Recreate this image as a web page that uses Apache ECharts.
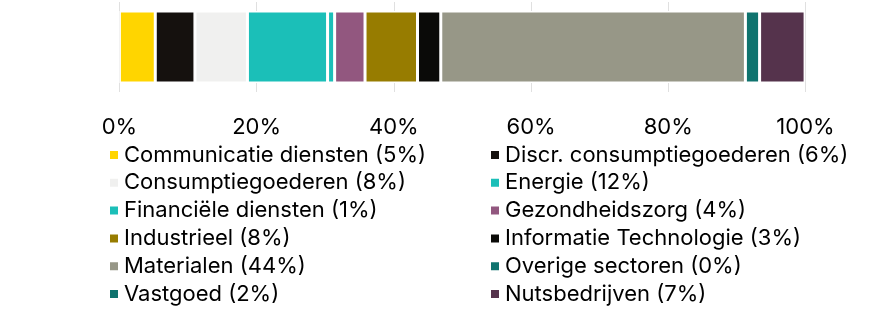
<!DOCTYPE html>
<html><head><meta charset="utf-8">
<script src="https://cdn.jsdelivr.net/npm/echarts@6/dist/echarts.min.js"></script>
<style>html,body{margin:0;padding:0;background:#fff}#c{width:878px;height:309px}</style>
</head><body><div id="c"></div>
<script>
const sectors = ["Communicatie diensten (5%)","Discr. consumptiegoederen (6%)","Consumptiegoederen (8%)","Energie (12%)","Financiële diensten (1%)","Gezondheidszorg (4%)","Industrieel (8%)","Informatie Technologie (3%)","Materialen (44%)","Overige sectoren (0%)","Vastgoed (2%)","Nutsbedrijven (7%)"];
const values = [5.23, 5.78, 7.65, 11.68, 1.03, 4.43, 7.65, 3.39, 44.4, 0.0, 2.07, 6.63];
const colors = ["#FFD500","#15110E","#F0F0EF","#1BBFB8","#1BBFB8","#92577F","#977C00","#0A0A08","#979787","#0F736E","#0F736E","#55334C"];
const tickLabels = ["0%","20%","40%","60%","80%","100%"];

const FONT = "Inter";
const chart = echarts.init(document.getElementById('c'), null, {renderer:'canvas'});
const series = sectors.map((n,i)=>({
  name:n, type:'bar', stack:'total', barWidth:'80%',
  data:[values[i]],
  itemStyle:{color:colors[i], borderColor:'#fff', borderWidth:1.5},
  emphasis:{disabled:true}
}));
const left = sectors.filter((_,i)=>i%2===0);
const right = sectors.filter((_,i)=>i%2===1);
const legendBase = {
  orient:'vertical', top:144, height:220, padding:0, itemWidth:10, itemHeight:10, itemGap:5.8, icon:'rect',
  textStyle:{fontFamily:FONT, fontSize:22, lineHeight:22, color:'#000'},
  selectedMode:false
};
chart.setOption({
  animation:false,
  color: colors,
  grid:{left:119.4, right:72.5, top:2, height:90},
  xAxis:{type:'value', min:0, max:100, interval:20,
    axisLine:{show:false}, axisTick:{show:false},
    splitLine:{show:true, lineStyle:{color:'#e0e0e0', width:1}},
    axisLabel:{fontFamily:FONT, fontSize:22, color:'#000', margin:24,
      formatter:(v)=>tickLabels[Math.round(v/20)]}
  },
  yAxis:{type:'category', data:[''], axisLine:{show:false}, axisTick:{show:false}, axisLabel:{show:false}},
  legend:[
    Object.assign({left:108, data:left}, legendBase),
    Object.assign({left:489, data:right}, legendBase)
  ],
  series: series
});
</script></body></html>
